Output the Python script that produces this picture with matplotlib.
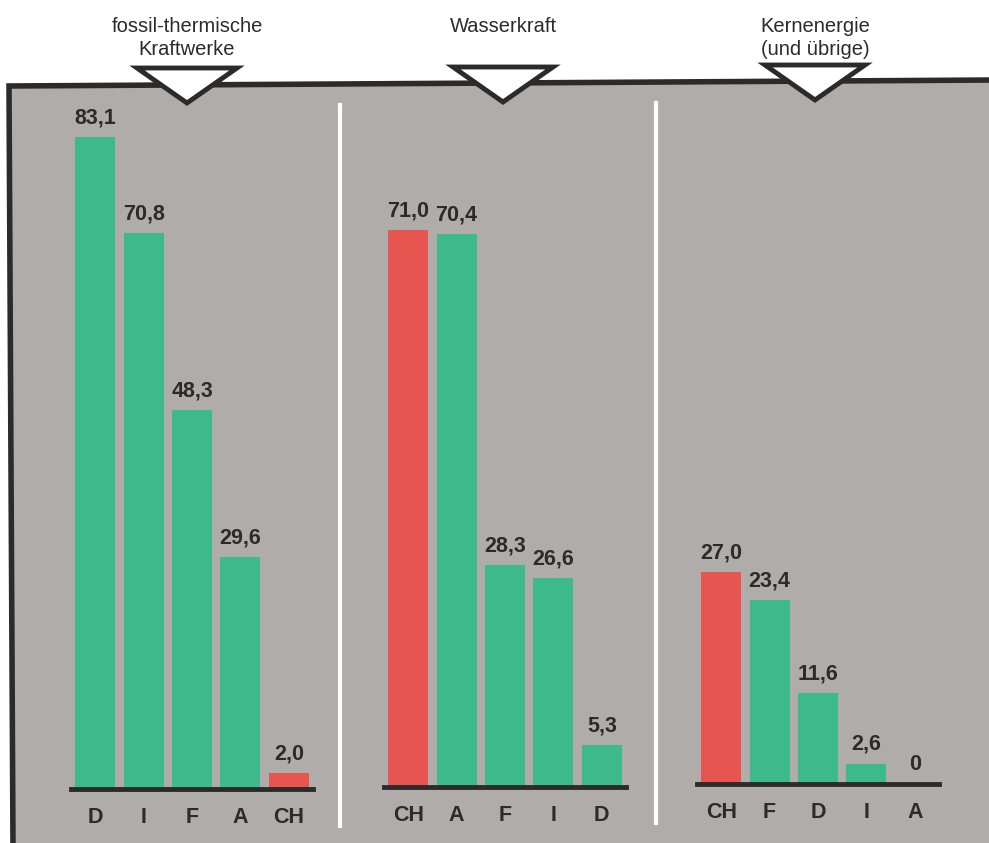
import numpy as np
import matplotlib.pyplot as plt
from matplotlib.patches import Polygon

plt.rcParams['font.family'] = ['Liberation Sans', 'DejaVu Sans']

# Daten
titel = ["fossil-thermische\nKraftwerke", "Wasserkraft", "Kernenergie\n(und übrige)"]
laender_fossil = ["D", "I", "F", "A", "CH"]
werte_fossil = [83.1, 70.8, 48.3, 29.6, 2.0]
laender_wasser = ["CH", "A", "F", "I", "D"]
werte_wasser = [71.0, 70.4, 28.3, 26.6, 5.3]
laender_kern = ["CH", "F", "D", "I", "A"]
werte_kern = [27.0, 23.4, 11.6, 2.6, 0.0]

gruen = "#3dba8b"
rot = "#e6554f"
grau = "#afaca9"
dunkel = "#2b2b2b"

W, H = 989, 843
fig = plt.figure(figsize=(W / 100, H / 100), dpi=100)

# Hintergrund-Achse in Pixelkoordinaten
bg = fig.add_axes([0, 0, 1, 1])
bg.set_xlim(0, W)
bg.set_ylim(H, 0)
bg.axis("off")

panel = Polygon([(9, 86), (W + 5, 80), (W + 5, H + 5), (13, H + 5)],
                closed=True, facecolor=grau, edgecolor=dunkel, linewidth=4, zorder=1)
bg.add_patch(panel)

# weisse Trennlinien
bg.plot([340, 340], [105, 826], color="white", lw=3, zorder=2)
bg.plot([656, 656], [103, 823], color="white", lw=3, zorder=2)

# Dreiecke und Titel
mitten = [187, 503, 815]
dreieck_y = [68, 67, 65]
for mx, ty, t in zip(mitten, dreieck_y, titel):
    tri = Polygon([(mx - 50, ty), (mx + 50, ty), (mx, ty + 35)], closed=True,
                  facecolor="white", edgecolor=dunkel, linewidth=3.5, zorder=3,
                  joinstyle="miter")
    bg.add_patch(tri)
    bg.text(mx, 38 if "\n" in t else 27, t, ha="center", va="center",
            fontsize=14.5, color=dunkel, linespacing=1.3, zorder=4)

# Balkengruppen
gruppen = [
    (laender_fossil, werte_fossil, 71, 789),
    (laender_wasser, werte_wasser, 384, 787),
    (laender_kern, werte_kern, 697, 784),
]
px_pro_einheit = 7.85
ymax = 95
for laender, werte, x0, basis in gruppen:
    breite = 242
    hoehe = ymax * px_pro_einheit
    ax = fig.add_axes([x0 / W, (H - basis) / H, breite / W, hoehe / H])
    ax.patch.set_alpha(0)
    x = np.arange(len(werte))
    farben = [rot if l == "CH" else gruen for l in laender]
    ax.bar(x, werte, width=0.83, color=farben, zorder=2)
    ax.set_xlim(-0.5, len(werte) - 0.5)
    ax.set_ylim(0, ymax)
    ax.axhline(0, color=dunkel, lw=3.5, zorder=3, clip_on=False)
    for xi, v in zip(x, werte):
        txt = "0" if v == 0 else f"{v:.1f}".replace(".", ",")
        ax.text(xi, v + 1.1, txt, ha="center", va="bottom", fontsize=15.5,
                fontweight="bold", color=dunkel)
    ax.set_xticks(x)
    ax.set_xticklabels(laender, fontsize=15.5, fontweight="bold", color=dunkel)
    ax.tick_params(axis="x", length=0, pad=13)
    ax.set_yticks([])
    for s in ax.spines.values():
        s.set_visible(False)

fig.savefig("out.png", dpi=100, facecolor="white")
